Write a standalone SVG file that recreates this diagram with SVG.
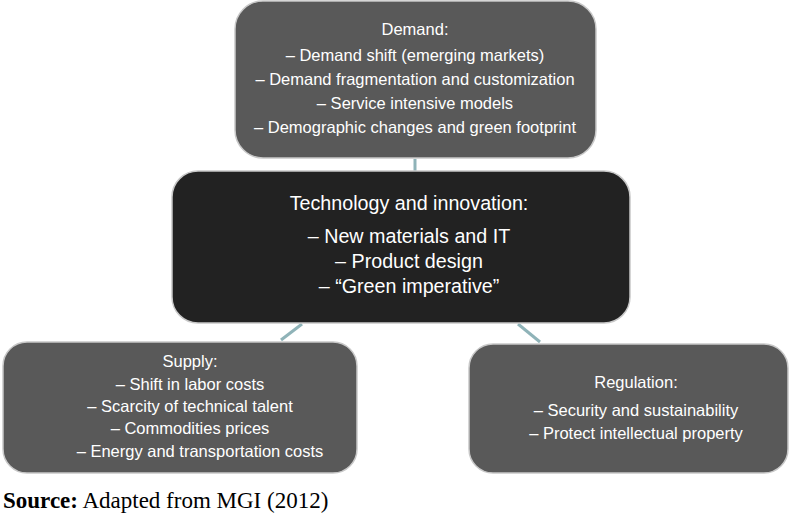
<svg xmlns="http://www.w3.org/2000/svg" width="791" height="521" viewBox="0 0 791 521">
<style>
.n{fill:#595959;stroke:#c8c8c8;stroke-width:1.5}
.d{fill:#222;stroke:#c8c8c8;stroke-width:1.5}
text{font-family:"Liberation Sans",Arial,sans-serif;fill:#fff;text-anchor:middle}
.s{font-size:16.5px}
.b{font-size:19.7px}
.c{stroke:#8fb3b8;stroke-width:3;fill:none}
</style>
<rect width="791" height="521" fill="#fff"/>
<g id="connectors">
<line class="c" x1="415" y1="159" x2="415" y2="171"/>
<line class="c" x1="302" y1="324" x2="281" y2="340"/>
<line class="c" x1="518" y1="324" x2="540" y2="342"/>
</g>
<g id="demand">
<rect class="n" x="235" y="1" width="361" height="157" rx="28"/>
<text class="s" x="415" y="35">Demand:</text>
<text class="s" x="415" y="61">– Demand shift (emerging markets)</text>
<text class="s" x="415" y="85">– Demand fragmentation and customization</text>
<text class="s" x="415" y="109">– Service intensive models</text>
<text class="s" x="415" y="133">– Demographic changes and green footprint</text>
</g>
<g id="tech">
<rect class="d" x="172" y="171" width="458" height="152" rx="26"/>
<text class="b" x="409" y="210">Technology and innovation:</text>
<text class="b" x="409" y="243">– New materials and IT</text>
<text class="b" x="409" y="268">– Product design</text>
<text class="b" x="409" y="293">– “Green imperative”</text>
</g>
<g id="supply">
<rect class="n" x="3" y="342" width="354" height="131" rx="24"/>
<text class="s" x="190" y="367">Supply:</text>
<text class="s" x="190" y="390">– Shift in labor costs</text>
<text class="s" x="190" y="412">– Scarcity of technical talent</text>
<text class="s" x="190" y="434">– Commodities prices</text>
<text class="s" x="200" y="457">– Energy and transportation costs</text>
</g>
<g id="regulation">
<rect class="n" x="469" y="344" width="319" height="129" rx="24"/>
<text class="s" x="636" y="388">Regulation:</text>
<text class="s" x="636" y="416">– Security and sustainability</text>
<text class="s" x="636" y="439">– Protect intellectual property</text>
</g>
<text x="3" y="508" style="font-family:'Liberation Serif',serif;font-size:23px;fill:#000;text-anchor:start"><tspan font-weight="bold">Source:</tspan> Adapted from MGI (2012)</text>
</svg>
